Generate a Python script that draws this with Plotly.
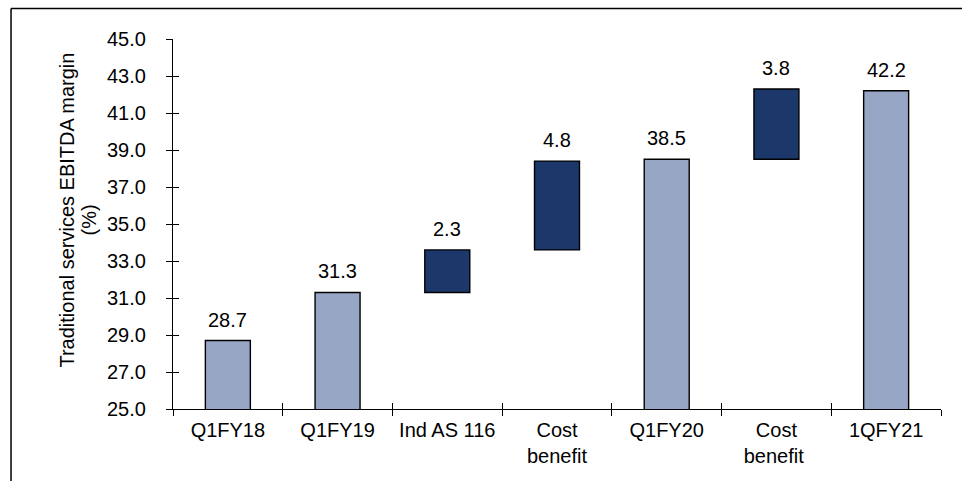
import plotly.graph_objects as go

# Traditional services EBITDA margin bridge (%)
categories = ["Q1FY18", "Q1FY19", "Ind AS 116", "Cost<br>benefit", "Q1FY20", "Cost<br>benefit ", "1QFY21"]
bar_values = [28.7, 31.3, 2.3, 4.8, 38.5, 3.8, 42.2]
bar_bases = [0, 0, 31.3, 33.6, 0, 38.5, 0]
bar_kinds = ["total", "total", "delta", "delta", "total", "delta", "total"]
label_text = ["28.7", "31.3", "2.3", "4.8", "38.5", "3.8", "42.2"]
title_lines = ["Traditional services EBITDA margin", "(%)"]

y_min, y_max, y_step = 25.0, 45.0, 2.0

total_color = "#97a6c4"
delta_color = "#1c3769"
colors = [total_color if k == "total" else delta_color for k in bar_kinds]

font_family = "Liberation Sans, Arial, sans-serif"
fsize = 20

fig = go.Figure()
fig.add_trace(go.Bar(
    x=categories,
    y=bar_values,
    base=bar_bases,
    marker=dict(color=colors, line=dict(color="#000000", width=1.4)),
    width=0.41,
    showlegend=False,
    hoverinfo="skip",
))
# invisible overlay trace so the inward half of the crossing ticks can be drawn
fig.add_trace(go.Scatter(x=categories, y=[None] * len(categories), xaxis="x2", yaxis="y2",
                         mode="markers", showlegend=False, hoverinfo="skip"))

# value labels sitting above each bar's top edge
value_annotations = [
    dict(text=t, x=c, y=b + v if b else v, xref="x", yref="y",
         xanchor="center", yanchor="bottom", yshift=8, showarrow=False,
         font=dict(family=font_family, size=fsize, color="#000000"))
    for c, v, b, t in zip(categories, bar_values, bar_bases, label_text)
]

# rotated y-axis title, two tightly spaced lines
title_annotations = [
    dict(text=title_lines[0], xref="paper", yref="paper", x=-0.1380, y=0.5365,
         xanchor="center", yanchor="middle", textangle=-90, showarrow=False,
         font=dict(family=font_family, size=fsize, color="#000000")),
    dict(text=title_lines[1], xref="paper", yref="paper", x=-0.1100, y=0.511,
         xanchor="center", yanchor="middle", textangle=-90, showarrow=False,
         font=dict(family=font_family, size=fsize, color="#000000")),
]

fig.update_layout(
    width=962, height=481,
    margin=dict(l=173, r=21, t=39, b=72),
    paper_bgcolor="#ffffff",
    plot_bgcolor="#ffffff",
    font=dict(family=font_family, size=fsize, color="#000000"),
    bargap=0.59,
    xaxis=dict(
        type="category",
        showline=True, linecolor="#000000", linewidth=1.3,
        ticks="outside", ticklen=6, tickwidth=1.3, tickcolor="#000000",
        tickson="boundaries",
        showgrid=False, zeroline=False,
        tickfont=dict(family=font_family, size=fsize, color="#000000"),
        ticklabelstandoff=3,
        range=[-0.5, 6.5],
    ),
    xaxis2=dict(
        type="category", overlaying="x", matches="x",
        ticks="inside", ticklen=6, tickwidth=1.3, tickcolor="#000000",
        tickson="boundaries", showticklabels=False, showgrid=False,
        showline=False, zeroline=False,
    ),
    yaxis=dict(
        range=[y_min, y_max],
        tick0=y_min, dtick=y_step, tickformat=".1f",
        showline=True, linecolor="#000000", linewidth=1.3,
        ticks="outside", ticklen=6, tickwidth=1.3, tickcolor="#000000",
        showgrid=False, zeroline=False,
        tickfont=dict(family=font_family, size=fsize, color="#000000"),
        ticklabelstandoff=16,
    ),
    yaxis2=dict(
        range=[y_min, y_max], overlaying="y", matches="y",
        tick0=y_min, dtick=y_step,
        ticks="inside", ticklen=6, tickwidth=1.3, tickcolor="#000000",
        showticklabels=False, showgrid=False, showline=False, zeroline=False,
    ),
    annotations=title_annotations + value_annotations,
    shapes=[
        dict(type="line", xref="paper", yref="paper",
             x0=-0.2109, x1=-0.2109, y0=-0.25, y1=1.0824,
             line=dict(color="#000000", width=1.5)),
        dict(type="line", xref="paper", yref="paper",
             x0=-0.2109, x1=1.1, y0=1.0824, y1=1.0824,
             line=dict(color="#000000", width=1.5)),
    ],
)

fig.write_html("out.html")
